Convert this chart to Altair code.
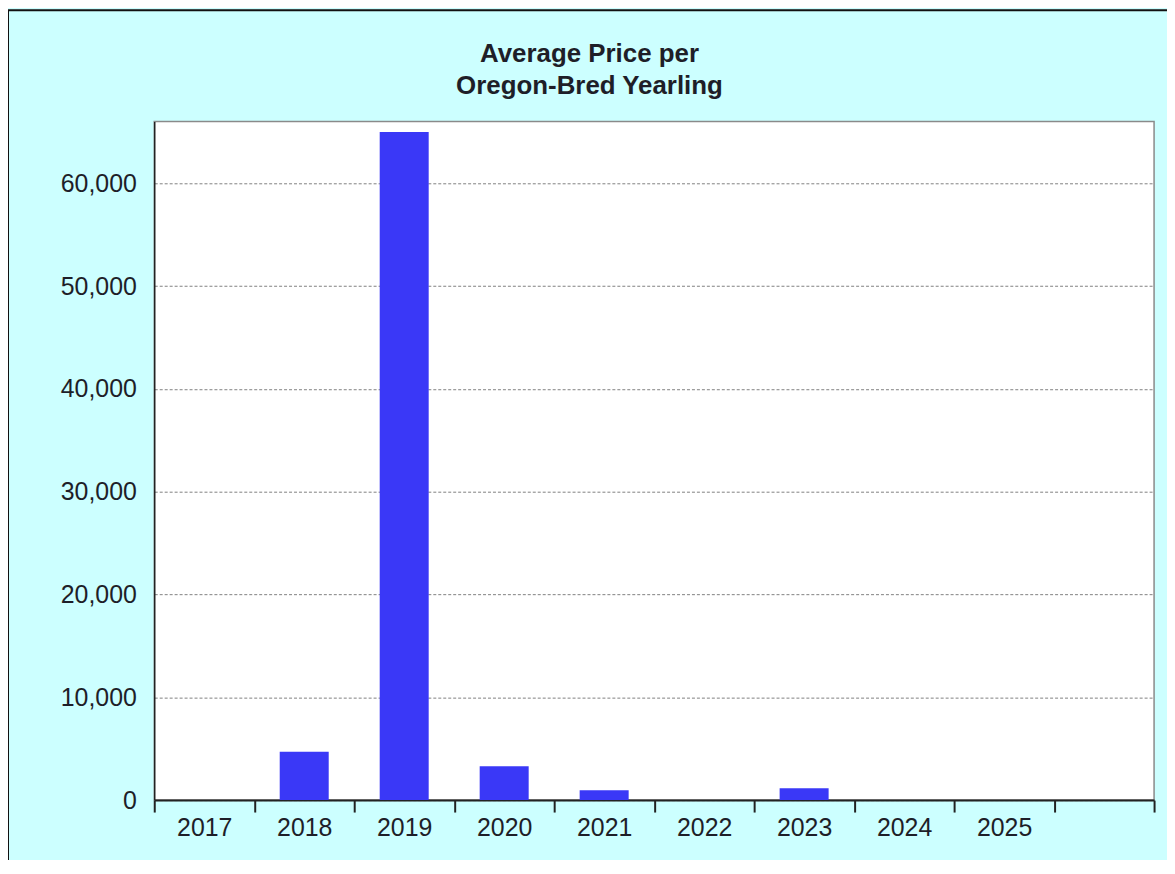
import altair as alt
import pandas as pd

years = ["2017", "2018", "2019", "2020", "2021", "2022", "2023", "2024", "2025"]
avg_price = [0, 4700, 65000, 3300, 970, 0, 1150, 0, 0]
x_domain = years + [" "]
y_ticks = [0, 10000, 20000, 30000, 40000, 50000, 60000]

df = pd.DataFrame({"year": years, "price": avg_price})

FONT = "Liberation Sans"
TEXT = "#1e1e28"

bars = alt.Chart(df).mark_bar(color="#3a38f7", width=alt.RelativeBandSize(0.49)).encode(
    x=alt.X(
        "year:N",
        scale=alt.Scale(domain=x_domain, paddingInner=0, paddingOuter=0),
        axis=alt.Axis(
            title=None,
            labelAngle=0,
            tickBand="extent",
            tickSize=12,
            tickWidth=2,
            tickColor="#222222",
            domainColor="#222222",
            domainWidth=2,
            labelPadding=4,
            labelFontSize=25,
            labelFont=FONT,
            labelColor=TEXT,
            grid=False,
        ),
    ),
    y=alt.Y(
        "price:Q",
        scale=alt.Scale(domain=[0, 66000], nice=False),
        axis=alt.Axis(
            title=None,
            values=y_ticks,
            format=",.0f",
            ticks=False,
            labelPadding=18,
            labelFontSize=25,
            labelFont=FONT,
            labelColor=TEXT,
            domainColor="#222222",
            domainWidth=1.5,
            grid=True,
            gridColor="#808080",
            gridDash=[3, 2],
            gridWidth=1,
        ),
    ),
)

frame = alt.Chart(pd.DataFrame({"a": [0]})).mark_rect(
    fill=None, stroke="#111111", strokeWidth=2
).encode(
    x=alt.value(-147),
    x2=alt.value(1100),
    y=alt.value(-112),
    y2=alt.value(900),
)

chart = alt.layer(bars, frame).properties(
    width=1005,
    height=682,
    padding={"left": 147, "top": 112, "right": 13, "bottom": 58},
    autosize=alt.AutoSizeParams(type="none"),
    background="#ccffff",
    title=alt.TitleParams(
        text=["Average Price per", "Oregon-Bred Yearling"],
        fontSize=26,
        fontWeight="bold",
        font=FONT,
        color=TEXT,
        lineHeight=32,
        offset=-90,
        dx=-65,
        anchor="middle",
    ),
).configure_view(fill="white", stroke="#8a8a8a", strokeWidth=1.5)

chart.save("out.html", embed_options={"renderer": "svg", "actions": False})
